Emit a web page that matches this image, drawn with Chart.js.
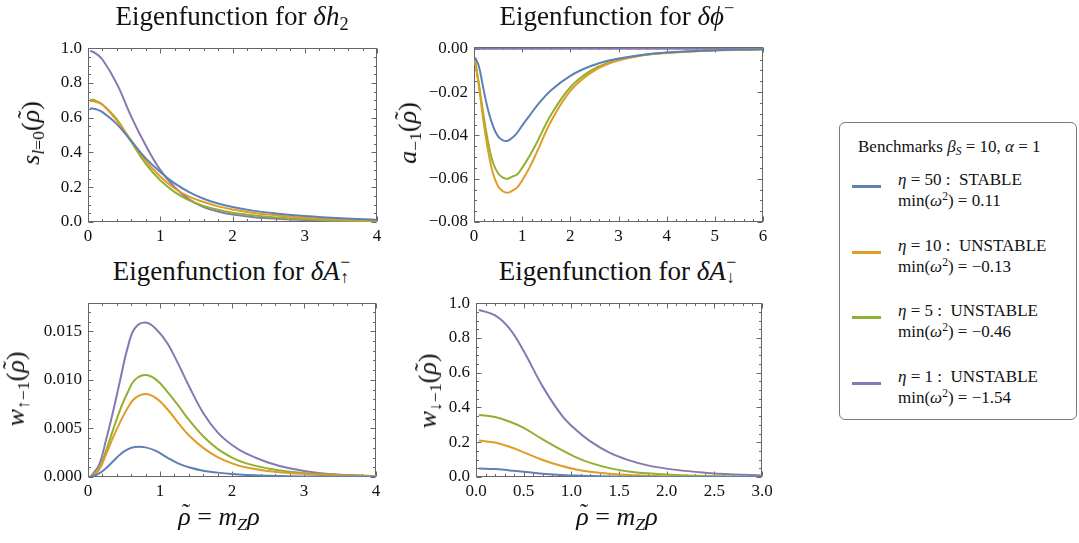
<!DOCTYPE html>
<html>
<head>
<meta charset="utf-8">
<script src="https://cdn.jsdelivr.net/npm/chart.js@4.4.1/dist/chart.umd.min.js"></script>
<style>
  body { margin: 0; width: 1079px; height: 543px; position: relative; background: #fff;
         font-family: 'Liberation Serif', 'DejaVu Serif', serif; color: #111; overflow: hidden; }
  .panel { position: absolute; }
  .title { position: absolute; transform: translate(-50%, -50%); white-space: nowrap; font-size: 27px; line-height: 1; }
  .ytitle { position: absolute; transform: translate(-50%, -50%) rotate(-90deg); white-space: nowrap; font-size: 26px; line-height: 1; }
  .xtitle { position: absolute; transform: translate(-50%, -50%); white-space: nowrap; font-size: 26px; line-height: 1; }
  sub, sup { font-size: 0.68em; line-height: 0; }
  sub { vertical-align: -0.28em; }
  sup { vertical-align: 0.55em; }
  /* rho with a tilde on top */
  .rt { position: relative; font-style: italic; display: inline-block; }
  .rt::after { content: '\02DC'; position: absolute; left: 0.15em; top: -0.14em; font-style: normal; font-size: 0.95em; }
  /* stacked superscript minus over an arrow subscript */
  .ss { display: inline-block; position: relative; width: 0.42em; height: 1em; }
  .ss .up { position: absolute; left: 0.02em; top: 0.04em; font-size: 0.66em; line-height: 1; }
  .ss .dn { position: absolute; left: 0.03em; top: 0.9em; font-size: 0.64em; line-height: 1; }
  #legend { position: absolute; left: 839px; top: 122px; width: 238px; height: 298px;
            border: 1px solid #7a7a7a; border-radius: 6px; box-sizing: border-box; font-size: 17px; }
  #legend .head { position: absolute; left: 18px; top: 14px; white-space: nowrap; }
  #legend .item { position: absolute; left: 0; width: 100%; }
  #legend .swatch { position: absolute; left: 12px; width: 29px; height: 3px; }
  #legend .text { position: absolute; left: 58px; line-height: 21px; white-space: nowrap; }
</style>
</head>
<body>
<div class="panel" id="boxH2"><canvas id="chartH2"></canvas></div>
<div class="panel" id="boxPhi"><canvas id="chartPhi"></canvas></div>
<div class="panel" id="boxUp"><canvas id="chartUp"></canvas></div>
<div class="panel" id="boxDown"><canvas id="chartDown"></canvas></div>

<div class="title" style="left:232px; top:16px;">Eigenfunction for <i>δh</i><sub>2</sub></div>
<div class="title" style="left:617px; top:16px;">Eigenfunction for <i>δϕ</i><sup>−</sup></div>
<div class="title" style="left:232px; top:269px;">Eigenfunction for <i>δA</i><span class="ss"><span class="up">−</span><span class="dn">↑</span></span></div>
<div class="title" style="left:618px; top:269px;">Eigenfunction for <i>δA</i><span class="ss"><span class="up">−</span><span class="dn">↓</span></span></div>

<div class="ytitle" style="left:31px; top:133px;"><i>s</i><sub><i>l</i>=0</sub>(<span class="rt">ρ</span>)</div>
<div class="ytitle" style="left:408px; top:133px;"><i>a</i><sub>−1</sub>(<span class="rt">ρ</span>)</div>
<div class="ytitle" style="left:16px; top:389px;"><i>w</i><sub>↑−1</sub>(<span class="rt">ρ</span>)</div>
<div class="ytitle" style="left:428px; top:391px;"><i>w</i><sub>↓−1</sub>(<span class="rt">ρ</span>)</div>

<div class="xtitle" style="left:219px; top:517px;"><span class="rt">ρ</span> = <i>m</i><sub><i>Z</i></sub><i>ρ</i></div>
<div class="xtitle" style="left:617px; top:517px;"><span class="rt">ρ</span> = <i>m</i><sub><i>Z</i></sub><i>ρ</i></div>

<div id="legend">
  <div class="head">Benchmarks <i>β</i><sub><i>S</i></sub> = 10, <i>α</i> = 1</div>
</div>

<script>
// benchmark points, same order in every panel
const ETA = [50, 10, 5, 1];
const STATUS = ['STABLE', 'UNSTABLE', 'UNSTABLE', 'UNSTABLE'];
const MIN_OMEGA2 = ['0.11', '\u22120.13', '\u22120.46', '\u22121.54'];
const COLORS = ['#5e81b5', '#e19c24', '#8fb032', '#8778b3'];

// delta h2 : s_{l=0}
const rhoH2 = [0.03, 0.1, 0.2, 0.4, 0.6, 0.8, 1.0, 1.2, 1.4, 1.6, 1.8, 2.0, 2.3, 2.6, 3.0, 3.5, 4.0];
const h2Eta50 = [0.655, 0.650, 0.632, 0.563, 0.465, 0.366, 0.288, 0.222, 0.172, 0.134, 0.106, 0.086, 0.064, 0.049, 0.034, 0.021, 0.012];
const h2Eta10 = [0.697, 0.692, 0.675, 0.583, 0.468, 0.352, 0.262, 0.193, 0.146, 0.115, 0.090, 0.072, 0.052, 0.039, 0.025, 0.014, 0.008];
const h2Eta5 = [0.705, 0.699, 0.676, 0.590, 0.460, 0.334, 0.240, 0.172, 0.124, 0.093, 0.070, 0.053, 0.037, 0.026, 0.016, 0.008, 0.004];
const h2Eta1 = [0.985, 0.972, 0.935, 0.795, 0.605, 0.440, 0.300, 0.200, 0.130, 0.086, 0.060, 0.043, 0.028, 0.019, 0.011, 0.005, 0.002];

// delta phi^- : a_{-1}
const rhoPhi = [0.02, 0.1, 0.2, 0.3, 0.4, 0.5, 0.6, 0.7, 0.8, 0.9, 1.0, 1.15, 1.3, 1.6, 2.0, 2.4, 2.8, 3.4, 4.0, 5.0, 6.0];
const phiEta50 = [-0.004, -0.008, -0.019, -0.029, -0.036, -0.0405, -0.0423, -0.0425, -0.041, -0.0387, -0.0355, -0.0310, -0.0265, -0.0192, -0.0125, -0.0082, -0.0054, -0.0031, -0.0018, -0.0007, -0.0003];
const phiEta10 = [-0.0055, -0.017, -0.034, -0.048, -0.058, -0.0635, -0.0658, -0.0665, -0.0655, -0.0640, -0.0608, -0.0550, -0.0480, -0.0335, -0.0195, -0.0115, -0.0068, -0.0035, -0.0020, -0.0008, -0.0003];
const phiEta5 = [-0.005, -0.016, -0.031, -0.044, -0.053, -0.0575, -0.0595, -0.0600, -0.059, -0.0580, -0.0550, -0.0497, -0.0435, -0.0305, -0.0178, -0.0105, -0.0063, -0.0033, -0.0019, -0.0007, -0.0003];
const phiEta1 = [0, 0, 0, 0, 0, 0, 0, 0, 0, 0, 0, 0, 0, 0, 0, 0, 0, 0, 0, 0, 0];

// delta A_up^- : w_{up,-1}
const rhoUp = [0.03, 0.15, 0.25, 0.35, 0.45, 0.55, 0.65, 0.8, 0.95, 1.1, 1.25, 1.4, 1.6, 1.8, 2.0, 2.2, 2.5, 2.8, 3.2, 3.6, 4.0];
const upEta50 = [0, 0.00035, 0.0009, 0.00162, 0.00235, 0.00284, 0.00308, 0.00305, 0.00266, 0.0020, 0.0014, 0.0010, 0.00065, 0.00045, 0.0003, 0.0002, 0.00012, 0.00007, 0.00004, 0.00002, 0.00001];
const upEta10 = [0, 0.0007, 0.0023, 0.0041, 0.0057, 0.0071, 0.0081, 0.00855, 0.0081, 0.0070, 0.0056, 0.0043, 0.0030, 0.00205, 0.0014, 0.00097, 0.00062, 0.0004, 0.00023, 0.00013, 0.00007];
const upEta5 = [0, 0.0008, 0.0027, 0.0049, 0.0070, 0.0087, 0.0100, 0.0105, 0.0100, 0.0088, 0.0074, 0.0059, 0.0042, 0.0029, 0.0020, 0.0014, 0.00088, 0.00055, 0.0003, 0.00015, 0.00008];
const upEta1 = [0, 0.0012, 0.0038, 0.0068, 0.0101, 0.0133, 0.0153, 0.0159, 0.0152, 0.0138, 0.0117, 0.0094, 0.0066, 0.0046, 0.0033, 0.0024, 0.0015, 0.0009, 0.0004, 0.0002, 0.0001];

// delta A_down^- : w_{down,-1}
const rhoDown = [0.03, 0.2, 0.35, 0.5, 0.7, 0.9, 1.05, 1.2, 1.4, 1.6, 1.8, 2.1, 2.4, 2.7, 3.0];
const downEta50 = [0.049, 0.046, 0.038, 0.030, 0.019, 0.012, 0.008, 0.0055, 0.003, 0.0017, 0.001, 0.0004, 0.0002, 0.0001, 0.00005];
const downEta10 = [0.210, 0.198, 0.174, 0.142, 0.098, 0.063, 0.043, 0.030, 0.019, 0.012, 0.007, 0.003, 0.0015, 0.0007, 0.0003];
const downEta5 = [0.357, 0.345, 0.319, 0.282, 0.216, 0.154, 0.113, 0.081, 0.051, 0.032, 0.021, 0.011, 0.006, 0.003, 0.0015];
const downEta1 = [0.961, 0.930, 0.855, 0.725, 0.520, 0.355, 0.270, 0.205, 0.140, 0.097, 0.067, 0.041, 0.025, 0.015, 0.009];

const FONT = "'Liberation Serif', 'DejaVu Serif', serif";
const Y_AXIS_W = 64, X_AXIS_H = 28, PAD_TOP = 12, PAD_RIGHT = 18;

// Mathematica-style frame: box plus inward major/minor ticks on all four sides
const frameTicks = {
  id: 'frameTicks',
  beforeDatasetsDraw(chart, args, opts) {
    const { ctx, chartArea: a } = chart;
    const L = Math.round(a.left) + 0.5, R = Math.round(a.right) - 0.5;
    const T = Math.round(a.top) + 0.5, B = Math.round(a.bottom) - 0.5;
    ctx.save();
    ctx.strokeStyle = '#666';
    ctx.lineWidth = 1;
    ctx.beginPath();
    const marks = (scale, minor, horizontal) => {
      const majors = scale.ticks.map(t => t.value);
      const k0 = Math.ceil(scale.min / minor - 1e-6), k1 = Math.floor(scale.max / minor + 1e-6);
      for (let k = k0; k <= k1; k++) {
        const v = k * minor;
        const len = majors.some(m => Math.abs(m - v) < minor / 10) ? 5 : 2.5;
        const p = Math.round(scale.getPixelForValue(v)) + 0.5;
        if (horizontal) {
          ctx.moveTo(p, B); ctx.lineTo(p, B - len);
          ctx.moveTo(p, T); ctx.lineTo(p, T + len);
        } else {
          ctx.moveTo(L, p); ctx.lineTo(L + len, p);
          ctx.moveTo(R, p); ctx.lineTo(R - len, p);
        }
      }
    };
    marks(chart.scales.x, opts.xMinor, true);
    marks(chart.scales.y, opts.yMinor, false);
    ctx.stroke();
    ctx.strokeRect(L, T, R - L, B - T);
    ctx.restore();
  }
};

function fmt(v, digits) {
  const s = Math.abs(v).toFixed(digits);
  return v < -1e-12 ? '\u2212' + s : s;
}

function axis(r, horizontal) {
  return {
    type: 'linear',
    min: r.min,
    max: r.max,
    grid: { display: false, drawTicks: false },
    border: { display: false },
    ticks: {
      stepSize: r.step,
      includeBounds: false,
      autoSkip: false,
      maxRotation: 0,
      padding: horizontal ? 4 : 6,
      color: '#111',
      font: { family: FONT, size: 17 },
      callback: v => fmt(v, r.digits)
    },
    afterFit: s => { if (horizontal) s.height = X_AXIS_H; else s.width = Y_AXIS_W; }
  };
}

function panel(boxId, canvasId, area, rho, series, xr, yr) {
  const box = document.getElementById(boxId);
  box.style.left = (area.left - Y_AXIS_W) + 'px';
  box.style.top = (area.top - PAD_TOP) + 'px';
  box.style.width = (area.right - area.left + Y_AXIS_W + PAD_RIGHT) + 'px';
  box.style.height = (area.bottom - area.top + PAD_TOP + X_AXIS_H) + 'px';

  new Chart(document.getElementById(canvasId), {
    type: 'line',
    data: {
      datasets: series.map((ys, i) => ({
        label: '\u03b7 = ' + ETA[i],
        data: rho.map((x, j) => ({ x: x, y: ys[j] })),
        borderColor: COLORS[i],
        borderWidth: 2,
        pointRadius: 0,
        tension: 0.4,
        fill: false
      }))
    },
    options: {
      responsive: true,
      maintainAspectRatio: false,
      animation: false,
      layout: { padding: { top: PAD_TOP, right: PAD_RIGHT, left: 0, bottom: 0 } },
      scales: { x: axis(xr, true), y: axis(yr, false) },
      plugins: {
        legend: { display: false },
        tooltip: { enabled: false },
        frameTicks: { xMinor: xr.minor, yMinor: yr.minor }
      }
    },
    plugins: [frameTicks]
  });
}

panel('boxH2', 'chartH2', { left: 88, right: 377, top: 44, bottom: 222 }, rhoH2,
  [h2Eta50, h2Eta10, h2Eta5, h2Eta1],
  { min: 0, max: 4, step: 1, minor: 0.2, digits: 0 },
  { min: 0, max: 1, step: 0.2, minor: 0.05, digits: 1 });

panel('boxPhi', 'chartPhi', { left: 474, right: 763, top: 43, bottom: 222 }, rhoPhi,
  [phiEta50, phiEta10, phiEta5, phiEta1],
  { min: 0, max: 6, step: 1, minor: 0.2, digits: 0 },
  { min: -0.08, max: 0.0007, step: 0.02, minor: 0.005, digits: 2 });

panel('boxUp', 'chartUp', { left: 88, right: 376, top: 299, bottom: 477 }, rhoUp,
  [upEta50, upEta10, upEta5, upEta1],
  { min: 0, max: 4, step: 1, minor: 0.2, digits: 0 },
  { min: 0, max: 0.0179, step: 0.005, minor: 0.001, digits: 3 });

panel('boxDown', 'chartDown', { left: 476, right: 762, top: 299, bottom: 477 }, rhoDown,
  [downEta50, downEta10, downEta5, downEta1],
  { min: 0, max: 3, step: 0.5, minor: 0.1, digits: 1 },
  { min: 0, max: 1, step: 0.2, minor: 0.05, digits: 1 });

// shared legend for the four panels
const legend = document.getElementById('legend');
const rows = [62, 128, 193, 259];
ETA.forEach((eta, i) => {
  const item = document.createElement('div');
  item.className = 'item';
  item.style.top = rows[i] + 'px';
  item.innerHTML =
    '<div class="swatch" style="top:0; background:' + COLORS[i] + '"></div>' +
    '<div class="text" style="top:-16px"><i>η</i> = ' + eta + ' :&nbsp; ' + STATUS[i] +
    '<br>min(<i>ω</i><sup>2</sup>) = ' + MIN_OMEGA2[i] + '</div>';
  legend.appendChild(item);
});
</script>
</body>
</html>
